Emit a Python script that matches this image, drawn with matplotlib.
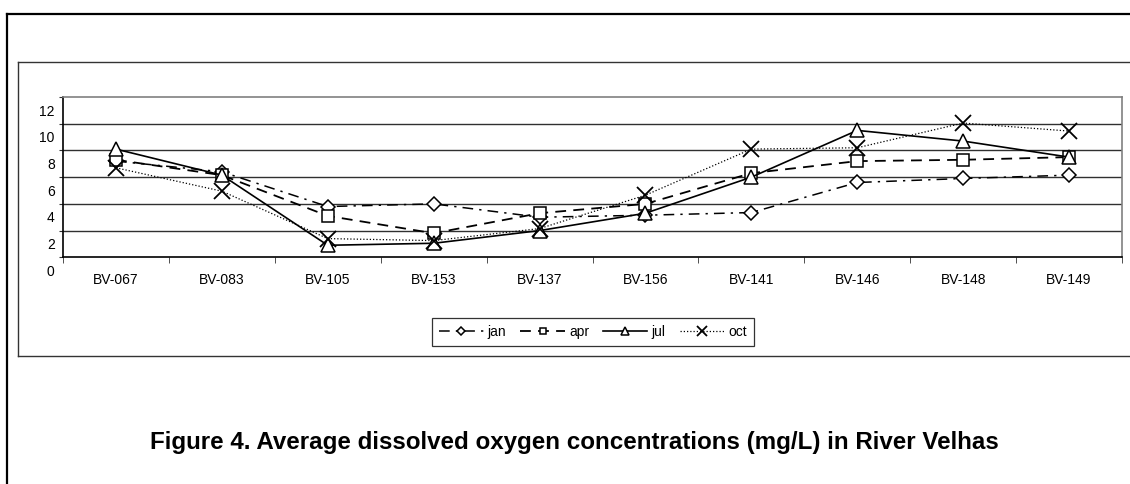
import matplotlib
matplotlib.use('Agg')
import matplotlib.pyplot as plt
from matplotlib.lines import Line2D
from matplotlib.transforms import ScaledTranslation
import numpy as np

plt.rcParams['font.family'] = ['Liberation Sans', 'DejaVu Sans']

# Data (mg/L)
stations = ['BV-067', 'BV-083', 'BV-105', 'BV-153', 'BV-137',
            'BV-156', 'BV-141', 'BV-146', 'BV-148', 'BV-149']
jan = [7.2, 6.4, 3.8, 4.0, 3.0, 3.15, 3.35, 5.6, 5.9, 6.15]
apr = [7.3, 6.15, 3.1, 1.8, 3.3, 4.0, 6.3, 7.2, 7.3, 7.5]
jul = [8.1, 6.15, 0.9, 1.05, 2.0, 3.3, 6.0, 9.5, 8.7, 7.5]
octo = [6.7, 4.95, 1.4, 1.25, 2.15, 4.65, 8.1, 8.2, 10.05, 9.45]
yticks = [0, 2, 4, 6, 8, 10, 12]

W, H = 1130, 484
fig = plt.figure(figsize=(W / 100, H / 100), dpi=100)

# page-like frames
def fx(px):
    return px / W

def fy(px):
    return 1 - px / H

fig.add_artist(Line2D([fx(7), fx(7)], [fy(14), 0], color='black', lw=1.6))
fig.add_artist(Line2D([fx(7), 1], [fy(14), fy(14)], color='black', lw=1.6))
fig.add_artist(Line2D([fx(18), fx(18)], [fy(62), fy(355.5)], color='#333333', lw=1))
fig.add_artist(Line2D([fx(18), 1], [fy(62), fy(62)], color='#333333', lw=1))
fig.add_artist(Line2D([fx(18), 1], [fy(355.5), fy(355.5)], color='#333333', lw=1))

ax = fig.add_axes([fx(63), fy(257.3), fx(1122) - fx(63), fy(97) - fy(257.3)])
x = np.arange(len(stations))

ax.plot(x, jan, color='black', lw=1.1, dashes=(7, 4, 1.5, 4), marker='D',
        ms=7.5, mfc='white', mec='black', mew=1.1, label='jan')
ax.plot(x, apr, color='black', lw=1.3, dashes=(6, 4), marker='s',
        ms=8, mfc='white', mec='black', mew=1.1, label='apr')
ax.plot(x, jul, color='black', lw=1.2, ls='-', marker='^',
        ms=10, mfc='white', mec='black', mew=1.1, label='jul')
ax.plot(x, octo, color='black', lw=0.9, dashes=(1, 1.6), marker='x',
        ms=11, mec='black', mew=1.3, label='oct')

ax.set_xlim(-0.5, len(stations) - 0.5)
ax.set_ylim(0, 12)
for v in yticks[1:-1]:
    ax.axhline(v, color='#303030', lw=1, zorder=0)

ax.set_xticks(x)
ax.set_xticklabels(stations, fontsize=10)
ax.set_xticks(np.arange(-0.5, len(stations)), minor=True)
ax.tick_params(axis='x', which='major', length=0, pad=11)
ax.tick_params(axis='x', which='minor', length=4, direction='out', color='#333333')
ax.set_yticks(yticks)
ax.set_yticklabels([str(v) for v in yticks], fontsize=10)
ax.tick_params(axis='y', length=3, direction='out', pad=3, color='#333333')
# labels sit a little below their gridlines, as in the original
for lab in ax.get_yticklabels():
    lab.set_transform(lab.get_transform() + ScaledTranslation(0, -0.13, fig.dpi_scale_trans))

ax.spines['left'].set_color('black')
ax.spines['bottom'].set_color('black')
ax.spines['top'].set_color('#808080')
ax.spines['right'].set_color('#808080')
for s in ax.spines.values():
    s.set_linewidth(1.2)

leg = fig.legend(loc='center', bbox_to_anchor=(fx(593), fy(332)), ncol=4,
                 fontsize=10, handlelength=3.2, columnspacing=1.0,
                 handletextpad=0.3, borderpad=0.5, fancybox=False,
                 edgecolor='black', markerscale=0.6)
leg.get_frame().set_linewidth(0.9)

fig.text(fx(574), fy(442), 'Figure 4. Average dissolved oxygen concentrations (mg/L) in River Velhas',
         ha='center', va='center', fontsize=17.4, fontweight='bold')

fig.savefig('out.png', dpi=100)
